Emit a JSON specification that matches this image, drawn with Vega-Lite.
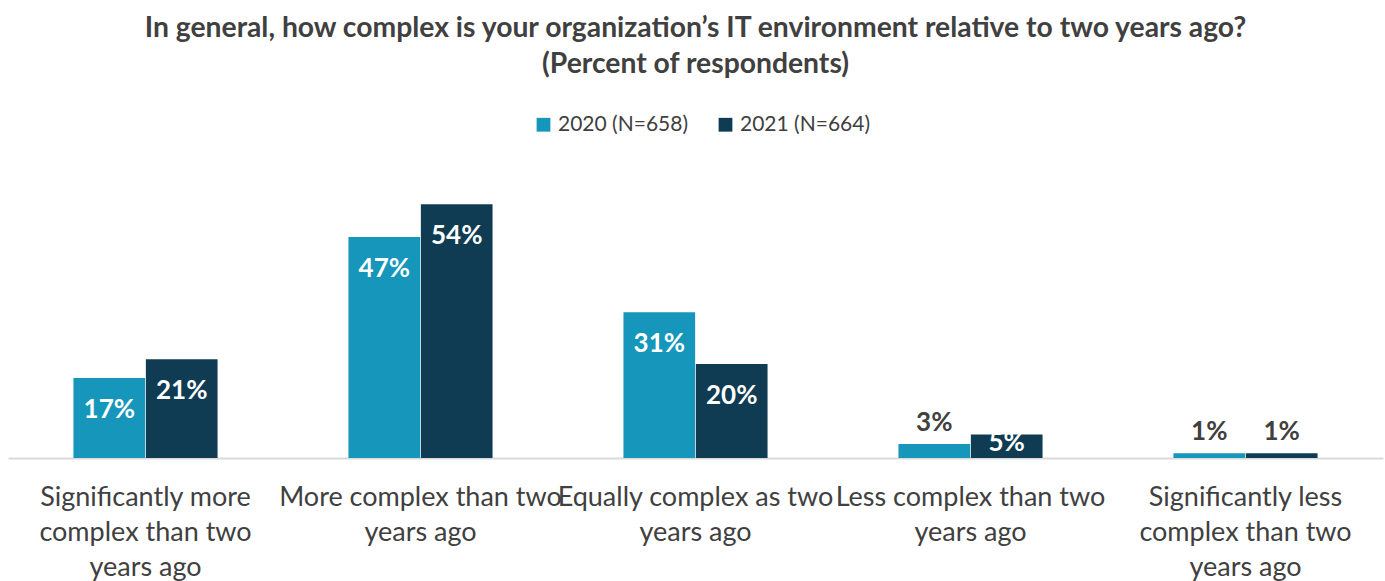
{
  "$schema": "https://vega.github.io/schema/vega-lite/v6.json",
  "width": 1375,
  "height": 282,
  "autosize": {"type": "none"},
  "padding": {"left": 8, "top": 176, "right": 2, "bottom": 123},
  "background": "white",
  "config": {"view": {"stroke": null}},
  "title": {
    "text": ["In general, how complex is your organization’s IT environment relative to two years ago?", "(Percent of respondents)"],
    "font": "Lato",
    "fontSize": 28.3,
    "fontWeight": "bold",
    "color": "#404040",
    "lineHeight": 36,
    "anchor": "middle",
    "offset": 35
  },
  "data": {
    "values": [
      {"category": "Significantly more complex than two years ago", "series": "2020 (N=658)", "value": 0.17},
      {"category": "Significantly more complex than two years ago", "series": "2021 (N=664)", "value": 0.21},
      {"category": "More complex than two years ago", "series": "2020 (N=658)", "value": 0.47},
      {"category": "More complex than two years ago", "series": "2021 (N=664)", "value": 0.54},
      {"category": "Equally complex as two years ago", "series": "2020 (N=658)", "value": 0.31},
      {"category": "Equally complex as two years ago", "series": "2021 (N=664)", "value": 0.20},
      {"category": "Less complex than two years ago", "series": "2020 (N=658)", "value": 0.03},
      {"category": "Less complex than two years ago", "series": "2021 (N=664)", "value": 0.05},
      {"category": "Significantly less complex than two years ago", "series": "2020 (N=658)", "value": 0.01},
      {"category": "Significantly less complex than two years ago", "series": "2021 (N=664)", "value": 0.01}
    ]
  },
  "encoding": {
    "x": {
      "field": "category",
      "type": "nominal",
      "sort": null,
      "scale": {"paddingInner": 0.476, "paddingOuter": 0.238},
      "axis": {
        "title": null,
        "labelAngle": 0,
        "labelFont": "Lato",
        "labelFontSize": 27,
        "labelColor": "#404040",
        "labelLineHeight": 35,
        "labelPadding": 26,
        "labelBaseline": "top",
        "ticks": false,
        "domainColor": "#d9d9d9",
        "domainWidth": 2,
        "labelLimit": 400,
        "labelExpr": "datum.value == 'Significantly more complex than two years ago' ? ['Significantly more', 'complex than two', 'years ago'] : datum.value == 'More complex than two years ago' ? ['More complex than two', 'years ago'] : datum.value == 'Equally complex as two years ago' ? ['Equally complex as two', 'years ago'] : datum.value == 'Less complex than two years ago' ? ['Less complex than two', 'years ago'] : ['Significantly less', 'complex than two', 'years ago']"
      }
    },
    "xOffset": {"field": "series", "type": "nominal", "scale": {"paddingInner": 0.01}},
    "y": {
      "field": "value",
      "type": "quantitative",
      "scale": {"domain": [0, 0.6]},
      "axis": null
    }
  },
  "layer": [
    {
      "mark": {"type": "bar"},
      "encoding": {
        "color": {
          "field": "series",
          "type": "nominal",
          "scale": {"range": ["#1596ba", "#0f3c53"]},
          "legend": {
            "title": null,
            "orient": "none",
            "legendX": 525,
            "legendY": -62,
            "direction": "horizontal",
            "symbolType": "square",
            "symbolSize": 190,
            "symbolStrokeWidth": 0,
            "labelFont": "Lato",
            "labelFontSize": 21,
            "labelColor": "#404040",
            "columnPadding": 26
          }
        }
      }
    },
    {
      "transform": [{"filter": "datum.value >= 0.1"}],
      "mark": {"type": "text", "font": "Lato", "fontSize": 26, "fontWeight": "bold", "color": "white", "baseline": "middle", "dy": 32},
      "encoding": {"text": {"field": "value", "type": "quantitative", "format": ".0%"}}
    },
    {
      "transform": [{"filter": "datum.value >= 0.04 && datum.value < 0.1"}],
      "mark": {"type": "text", "font": "Lato", "fontSize": 26, "fontWeight": "bold", "color": "white", "baseline": "middle", "dy": 8},
      "encoding": {"text": {"field": "value", "type": "quantitative", "format": ".0%"}}
    },
    {
      "transform": [{"filter": "datum.value < 0.04"}],
      "mark": {"type": "text", "font": "Lato", "fontSize": 26, "fontWeight": "bold", "color": "#404040", "baseline": "bottom", "dy": -8},
      "encoding": {"text": {"field": "value", "type": "quantitative", "format": ".0%"}}
    }
  ]
}
